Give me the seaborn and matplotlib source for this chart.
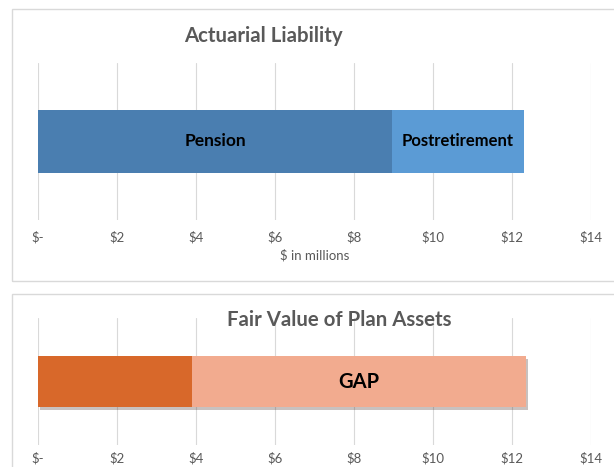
import matplotlib
matplotlib.use("Agg")
import matplotlib.pyplot as plt
import matplotlib.patheffects as pe
from matplotlib.patches import Rectangle
import pandas as pd
import seaborn as sns

# values in $ millions
liab_parts = ["Pension", "Postretirement"]
liab_values = [8.96, 3.35]
asset_parts = ["Assets", "GAP"]
asset_values = [3.9, 8.45]
ticks = [0, 2, 4, 6, 8, 10, 12, 14]
tick_labels = ["$-", "$2", "$4", "$6", "$8", "$10", "$12", "$14"]

sns.set_theme(style="white")
plt.rcParams["font.family"] = ["Lato", "DejaVu Sans"]

W, H = 614, 467
fig = plt.figure(figsize=(W / 100, H / 100), dpi=100)


def px(x0, y0, x1, y1):
    return [x0 / W, 1 - y1 / H, (x1 - x0) / W, (y1 - y0) / H]


# panel frames
for (x0, y0, x1, y1) in [(12, 9, 620, 281), (12, 294, 620, 480)]:
    fig.patches.append(Rectangle((x0 / W, 1 - y1 / H), (x1 - x0) / W, (y1 - y0) / H,
                                 transform=fig.transFigure, fill=False,
                                 edgecolor="#d9d9d9", linewidth=1.0))


def stacked(ax, parts, values, colors, pad=8, shadow=False):
    total = sum(values)
    df = pd.DataFrame({"row": ["a", "a"],
                       "value": [total, values[0]],
                       "part": [parts[1], parts[0]]})
    for i in range(2):
        sns.barplot(data=df.iloc[[i]], x="value", y="row", orient="h",
                    color=colors[i], width=0.4, saturation=1, ax=ax,
                    linewidth=0)
    if shadow:
        ax.patches[0].set_path_effects(
            [pe.SimplePatchShadow(offset=(1.5, -2), alpha=0.3), pe.Normal()])
    ax.set_xlim(0, 14)
    ax.set_ylim(0.5, -0.5)
    ax.set_xticks(ticks)
    ax.set_xticklabels(tick_labels, color="#595959", fontsize=9.5)
    ax.tick_params(axis="x", length=0, pad=pad)
    ax.set_yticks([])
    ax.set_ylabel("")
    ax.set_xlabel("")
    ax.grid(axis="x", color="#d9d9d9", linewidth=0.8)
    ax.set_axisbelow(True)
    for s in ax.spines.values():
        s.set_visible(False)
    return total


# top panel
ax1 = fig.add_axes(px(38, 63, 591, 220))
stacked(ax1, liab_parts, liab_values, ["#5b9bd5", "#4a7eb0"], pad=8)
ax1.text(liab_values[0] / 2, 0, liab_parts[0], ha="center", va="center",
         fontsize=12.5, fontweight="bold", color="black")
ax1.text(liab_values[0] + liab_values[1] / 2, 0, liab_parts[1], ha="center", va="center",
         fontsize=12, fontweight="bold", color="black")
ax1.set_xlabel("$ in millions", color="#595959", fontsize=9.5, labelpad=4)
fig.text(263 / W, 1 - 36 / H, "Actuarial Liability", ha="center", va="center",
         fontsize=14.7, fontweight="bold", color="#595959")

# bottom panel
ax2 = fig.add_axes(px(38, 318, 591, 445))
stacked(ax2, asset_parts, asset_values, ["#f2ab8f", "#d8682a"], pad=5, shadow=True)
ax2.text(asset_values[0] + asset_values[1] / 2, 0, asset_parts[1], ha="center", va="center",
         fontsize=14.5, fontweight="bold", color="black")
fig.text(339 / W, 1 - 320 / H, "Fair Value of Plan Assets", ha="center", va="center",
         fontsize=14.7, fontweight="bold", color="#595959")

fig.savefig("out.png", dpi=100)
